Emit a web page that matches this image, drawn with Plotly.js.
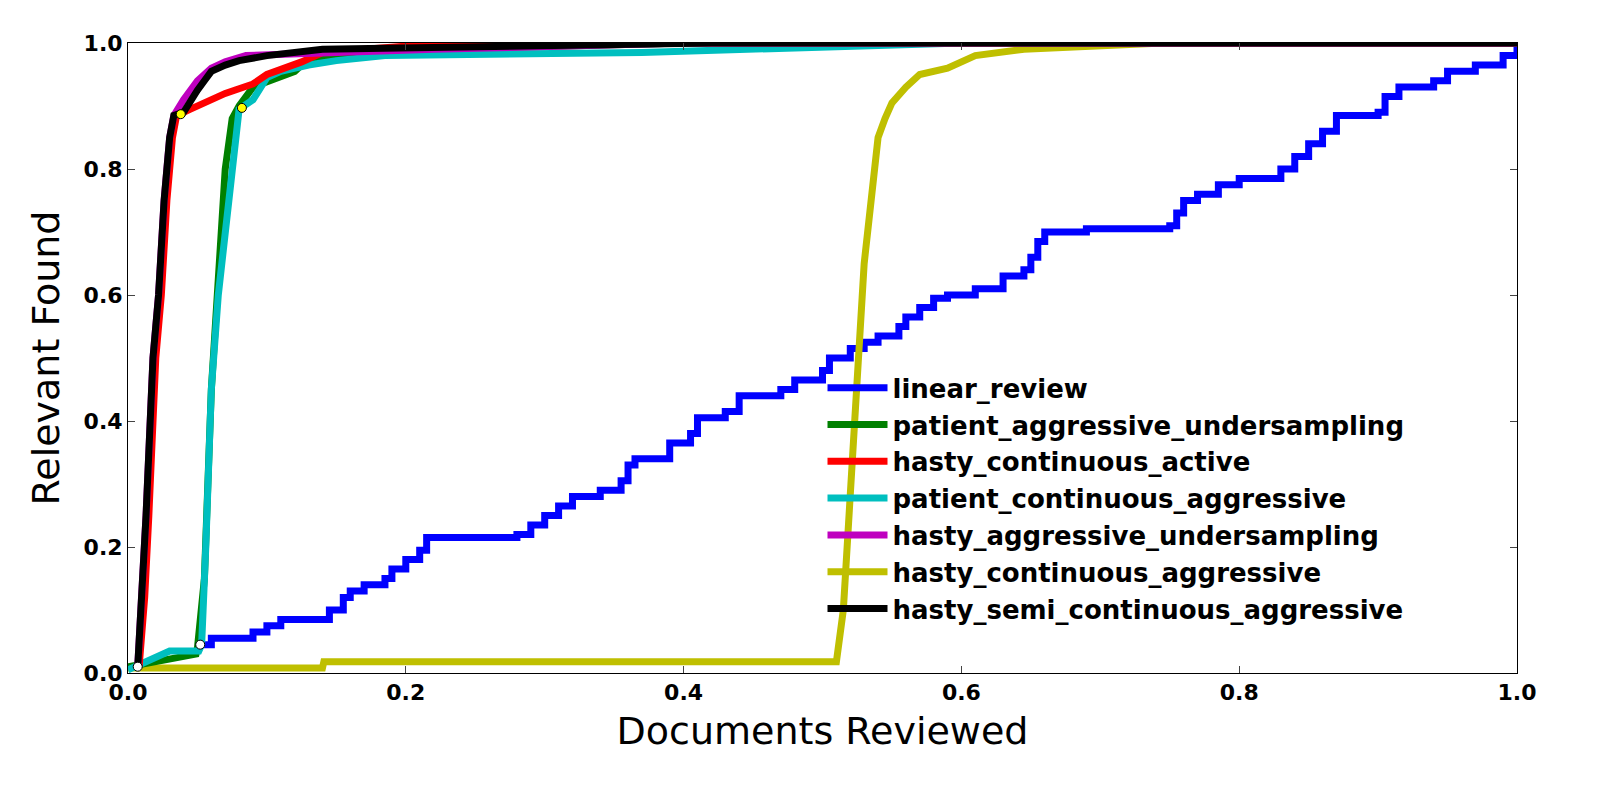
<!DOCTYPE html>
<html><head><script src="https://cdn.plot.ly/plotly-3.0.1.min.js"></script>
<style>body{margin:0;overflow:hidden}</style></head><body><div id="c" style="width:1600px;height:800px"></div>
<script>
const names=["linear_review","patient_aggressive_undersampling","hasty_continuous_active","patient_continuous_aggressive","hasty_aggressive_undersampling","hasty_continuous_aggressive","hasty_semi_continuous_aggressive"];
const colors=["#0000ff","#008000","#ff0000","#00bfbf","#bf00bf","#bfbf00","#000000"];
const linearX=[0.052,0.06,0.09,0.1,0.11,0.14,0.145,0.155,0.16,0.17,0.185,0.19,0.2,0.21,0.215,0.28,0.29,0.3,0.31,0.32,0.34,0.355,0.36,0.365,0.39,0.405,0.41,0.43,0.44,0.47,0.48,0.5,0.505,0.52,0.53,0.54,0.555,0.56,0.57,0.58,0.59,0.61,0.63,0.645,0.65,0.655,0.66,0.69,0.75,0.755,0.76,0.77,0.785,0.8,0.83,0.84,0.85,0.86,0.87,0.9,0.905,0.915,0.94,0.95,0.97,0.99,1.0];
const linearY=[0.045,0.055,0.065,0.075,0.085,0.085,0.1,0.12,0.13,0.14,0.15,0.165,0.18,0.195,0.215,0.22,0.235,0.25,0.265,0.28,0.29,0.305,0.33,0.34,0.365,0.38,0.405,0.415,0.44,0.45,0.465,0.48,0.5,0.515,0.525,0.535,0.55,0.565,0.58,0.595,0.6,0.61,0.63,0.64,0.66,0.685,0.7,0.705,0.71,0.73,0.75,0.76,0.775,0.785,0.8,0.82,0.84,0.86,0.885,0.89,0.915,0.93,0.94,0.955,0.965,0.98,1.0];
const pauX=[0.0,0.049,0.05,0.055,0.06,0.065,0.07,0.075,0.08,0.09,0.12,0.13,0.22,0.4,1.0];
const pauY=[0.01,0.03,0.04,0.15,0.45,0.65,0.8,0.88,0.9,0.93,0.955,0.975,0.99,1.0,1.0];
const hcaX=[0.008,0.012,0.015,0.018,0.02,0.024,0.028,0.032,0.035,0.045,0.055,0.07,0.09,0.1,0.125,0.14,0.2,0.4,1.0];
const hcaY=[0.01,0.12,0.25,0.4,0.5,0.6,0.75,0.85,0.885,0.895,0.905,0.92,0.935,0.95,0.97,0.985,0.995,1.0,1.0];
const pcaX=[0,0.01,0.02,0.03,0.051,0.053,0.056,0.06,0.065,0.07,0.075,0.08,0.09,0.1,0.11,0.13,0.15,0.185,0.37,0.52,0.6,1.0];
const pcaY=[0.005,0.015,0.025,0.035,0.035,0.045,0.2,0.45,0.6,0.7,0.8,0.895,0.91,0.945,0.955,0.965,0.972,0.98,0.985,0.995,1.0,1.0];
const hauX=[0.007,0.01,0.013,0.016,0.018,0.022,0.026,0.03,0.033,0.04,0.05,0.06,0.07,0.085,0.22,0.4,1.0];
const hauY=[0.01,0.12,0.25,0.4,0.5,0.6,0.75,0.85,0.885,0.91,0.94,0.96,0.97,0.98,0.99,1.0,1.0];
const hcagX=[0,0.14,0.141,0.51,0.515,0.52,0.525,0.53,0.535,0.54,0.545,0.55,0.56,0.57,0.59,0.6,0.61,0.645,0.745,1.0];
const hcagY=[0.008,0.008,0.018,0.018,0.1,0.3,0.5,0.65,0.75,0.85,0.88,0.905,0.93,0.95,0.96,0.97,0.98,0.99,1.0,1.0];
const hscaX=[0.007,0.01,0.013,0.016,0.018,0.022,0.026,0.03,0.033,0.04,0.045,0.05,0.055,0.06,0.07,0.08,0.1,0.14,0.42,1.0];
const hscaY=[0.01,0.12,0.25,0.4,0.5,0.6,0.75,0.85,0.885,0.89,0.91,0.925,0.94,0.955,0.965,0.972,0.98,0.99,1.0,1.0];
const whiteMX=[0.007,0.052], whiteMY=[0.01,0.045];
const yellowMX=[0.038,0.082], yellowMY=[0.887,0.897];
const xs=[linearX,pauX,hcaX,pcaX,hauX,hcagX,hscaX], ys=[linearY,pauY,hcaY,pcaY,hauY,hcagY,hscaY];
const order=[0,5,1,3,2,4,6];
const traces=order.map(i=>({x:xs[i],y:ys[i],name:names[i],mode:'lines',line:{color:colors[i],width:7,shape:i==0?'hv':'linear'},legendrank:i}));
traces.push({x:whiteMX,y:whiteMY,mode:'markers',marker:{color:'white',size:9,line:{color:'black',width:1}},showlegend:false});
traces.push({x:yellowMX,y:yellowMY,mode:'markers',marker:{color:'yellow',size:9,line:{color:'black',width:1}},showlegend:false});
const ax={range:[0,1],dtick:0.2,tickformat:'.1f',ticks:'inside',ticklen:7,mirror:'allticks',showline:true,linecolor:'black',linewidth:1,showgrid:false,zeroline:false,automargin:false,tickfont:{size:22,family:'DejaVu Sans',color:'black',weight:'bold'}};
Plotly.newPlot('c',traces,{width:1600,height:800,margin:{l:128,r:83,t:43,b:127,autoexpand:false},plot_bgcolor:'white',paper_bgcolor:'white',
xaxis:Object.assign({},ax,{title:{text:'Documents Reviewed',font:{size:38,family:'DejaVu Sans',color:'black'},standoff:12}}),
yaxis:Object.assign({},ax,{title:{text:'Relevant Found',font:{size:38,family:'DejaVu Sans',color:'black'},standoff:12}}),
legend:{x:0.5,y:0.49,xanchor:'left',yanchor:'top',bgcolor:'rgba(0,0,0,0)',font:{size:26,family:'DejaVu Sans',color:'black',weight:'bold'},tracegroupgap:0,itemwidth:60},
showlegend:true},{displayModeBar:false});
</script></body></html>
